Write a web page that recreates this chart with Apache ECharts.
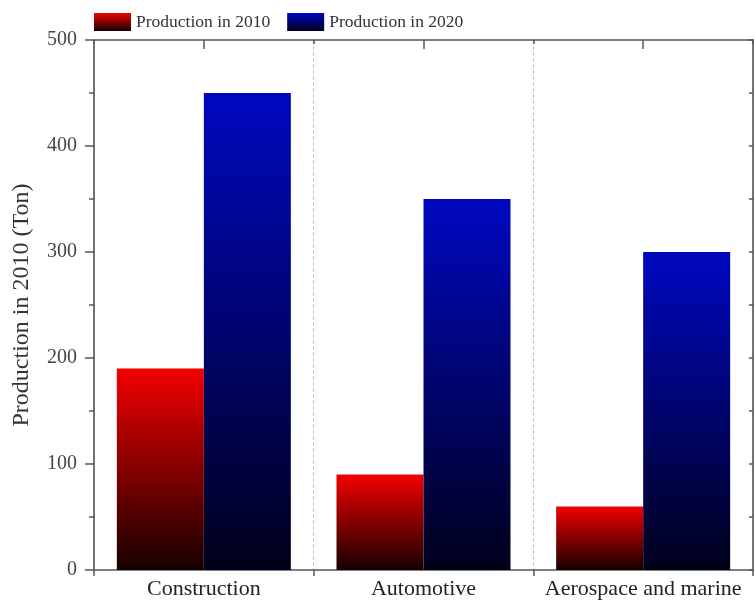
<!DOCTYPE html>
<html>
<head>
<meta charset="utf-8">
<script src="https://cdn.jsdelivr.net/npm/echarts@6/dist/echarts.min.js"></script>
<style>html,body{margin:0;padding:0;background:#fff}#c{width:755px;height:603px}</style>
</head>
<body>
<div id="c"></div>
<script>
const categories = ['Construction', 'Automotive', 'Aerospace and marine'];
const seriesNames = ['Production in 2010', 'Production in 2020'];
const prod2010 = [190, 90, 60];
const prod2020 = [450, 350, 300];
const yTicks = [0, 100, 200, 300, 400, 500];

const FONT = "'Liberation Serif', 'Times New Roman', serif";
const chart = echarts.init(document.getElementById('c'), null, {renderer: 'canvas'});

function grad(top, bottom) {
  return {type: 'linear', x: 0, y: 0, x2: 0, y2: 1,
    colorStops: [{offset: 0, color: top}, {offset: 1, color: bottom}]};
}
const axisLineStyle = {color: '#555', width: 1.6};

chart.setOption({
  animation: false,
  backgroundColor: '#fff',
  legend: {
    left: 89, top: 8,
    itemWidth: 37, itemHeight: 18, itemGap: 17,
    icon: 'rect',
    textStyle: {fontFamily: FONT, fontSize: 17.5, color: '#333'},
    data: seriesNames
  },
  grid: {left: 94, right: 2, top: 40, bottom: 33, containLabel: false},
  xAxis: [{
    type: 'category',
    position: 'bottom',
    data: categories,
    axisLine: {onZero: false, lineStyle: axisLineStyle},
    axisTick: {show: true, interval: 0, length: 6, lineStyle: {color: '#555', width: 1.5}},
    axisLabel: {interval: 0, fontFamily: FONT, fontSize: 22, color: '#222', margin: 8},
    splitLine: {show: true, interval: 0, lineStyle: {color: '#c8c8c8', type: 'dashed', width: 1}}
  }, {
    type: 'value',
    position: 'top',
    min: 0, max: 3, interval: 1,
    axisLine: {show: true, onZero: false, lineStyle: axisLineStyle},
    axisTick: {show: true, inside: true, length: 4, lineStyle: {color: '#555', width: 1.5}},
    minorTick: {show: true, splitNumber: 2, length: 9, lineStyle: {color: '#555', width: 1.5}},
    axisLabel: {show: false},
    splitLine: {show: false}
  }],
  yAxis: [{
    type: 'value',
    position: 'left',
    min: yTicks[0], max: yTicks[yTicks.length - 1], interval: 100,
    name: 'Production in 2010 (Ton)',
    nameLocation: 'middle',
    nameGap: 60,
    nameTextStyle: {fontFamily: FONT, fontSize: 24, color: '#333'},
    axisLine: {show: true, onZero: false, lineStyle: axisLineStyle},
    axisTick: {show: true, length: 9, lineStyle: {color: '#555', width: 1.5}},
    minorTick: {show: true, splitNumber: 2, length: 5, lineStyle: {color: '#555', width: 1.5}},
    axisLabel: {fontFamily: FONT, fontSize: 20, color: '#444', margin: 17},
    splitLine: {show: false}
  }, {
    type: 'value',
    position: 'right',
    min: 0, max: 500, interval: 50,
    axisLine: {show: true, onZero: false, lineStyle: axisLineStyle},
    axisTick: {show: true, inside: true, length: 4, lineStyle: {color: '#555', width: 1.5}},
    axisLabel: {show: false},
    splitLine: {show: false}
  }],
  series: [{
    name: seriesNames[0],
    type: 'bar',
    xAxisIndex: 0, yAxisIndex: 0,
    data: prod2010,
    barWidth: 87,
    barGap: '0%',
    itemStyle: {color: grad('#f20000', '#160000')}
  }, {
    name: seriesNames[1],
    type: 'bar',
    xAxisIndex: 0, yAxisIndex: 0,
    data: prod2020,
    barWidth: 87,
    barGap: '0%',
    itemStyle: {color: grad('#0008c0', '#00001a')}
  }]
});
</script>
</body>
</html>
